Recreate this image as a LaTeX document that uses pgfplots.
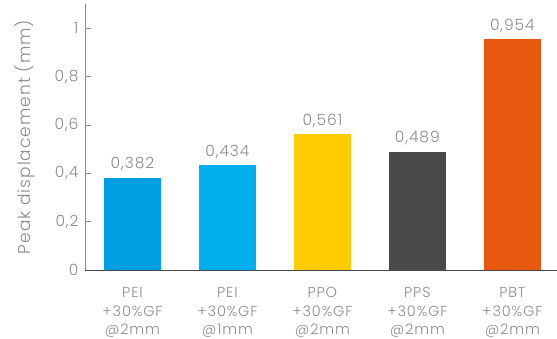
\documentclass[border=0pt]{standalone}
\usepackage{fontspec}
\setmainfont{Poppins}[UprightFont={* Light}, LetterSpace=6]
\usepackage{pgfplots}
\pgfplotsset{compat=1.18}

\definecolor{txtgray}{HTML}{8C8C8C}
\definecolor{ygray}{HTML}{8A8A8A}
\definecolor{xdark}{HTML}{4A4A4A}
\definecolor{cA}{HTML}{009FE3}
\definecolor{cB}{HTML}{00B0EE}
\definecolor{cC}{HTML}{FFCC00}
\definecolor{cD}{HTML}{4A4A49}
\definecolor{cE}{HTML}{E8590F}

\begin{document}
\begin{tikzpicture}
\begin{axis}[
  scale only axis,
  width=472pt, height=266pt,
  xmin=-0.5, xmax=4.47,
  ymin=0, ymax=1.1,
  axis x line*=bottom,
  axis y line*=left,
  x axis line style={xdark, line width=0.9pt, -},
  y axis line style={ygray, line width=0.9pt, -},
  xtick={0,1,2,3,4},
  xticklabels={{PEI\\+30\%GF\\@2mm},{PEI\\+30\%GF\\@1mm},{PPO\\+30\%GF\\@2mm},{PPS\\+30\%GF\\@2mm},{PBT\\+30\%GF\\@2mm}},
  xticklabel style={align=center, text=txtgray, font=\fontsize{14.5}{18.5}\selectfont, yshift=-8pt},
  major x tick style={draw=none},
  ytick={0,0.2,0.4,0.6,0.8,1},
  ytick style={ygray, line width=0.7pt},
  tick align=inside,
  major tick length=6pt,
  yticklabel style={text=txtgray, font=\fontsize{15.5}{17}\selectfont, xshift=-3pt},
  /pgf/number format/assume math mode=true,
  /pgf/number format/use comma,
  every axis y label/.style={at={(rel axis cs:0,0.5)}, rotate=90, anchor=center,
    yshift=60pt, text=txtgray, font=\fontsize{17}{19}\selectfont},
  ylabel={Peak displacement (mm)},
  ybar, bar width=0.6, bar shift=0pt,
  nodes near coords,
  nodes near coords style={text=txtgray, font=\fontsize{15.5}{17}\selectfont,
    /pgf/number format/fixed, /pgf/number format/fixed zerofill,
    /pgf/number format/precision=3, /pgf/number format/use comma,
    /pgf/number format/assume math mode=true, yshift=3pt},
  clip=false,
]
\addplot[draw=none, fill=cA] coordinates {(0,0.382)};
\addplot[draw=none, fill=cB] coordinates {(1,0.434)};
\addplot[draw=none, fill=cC] coordinates {(2,0.561)};
\addplot[draw=none, fill=cD] coordinates {(3,0.489)};
\addplot[draw=none, fill=cE] coordinates {(4,0.954)};
\coordinate (sw) at (rel axis cs:0,0);
\coordinate (ne) at (rel axis cs:1,1);
\end{axis}
\pgfresetboundingbox
\path ([xshift=-85pt,yshift=-69pt]sw) rectangle ([yshift=4pt]ne);
\end{tikzpicture}
\end{document}
